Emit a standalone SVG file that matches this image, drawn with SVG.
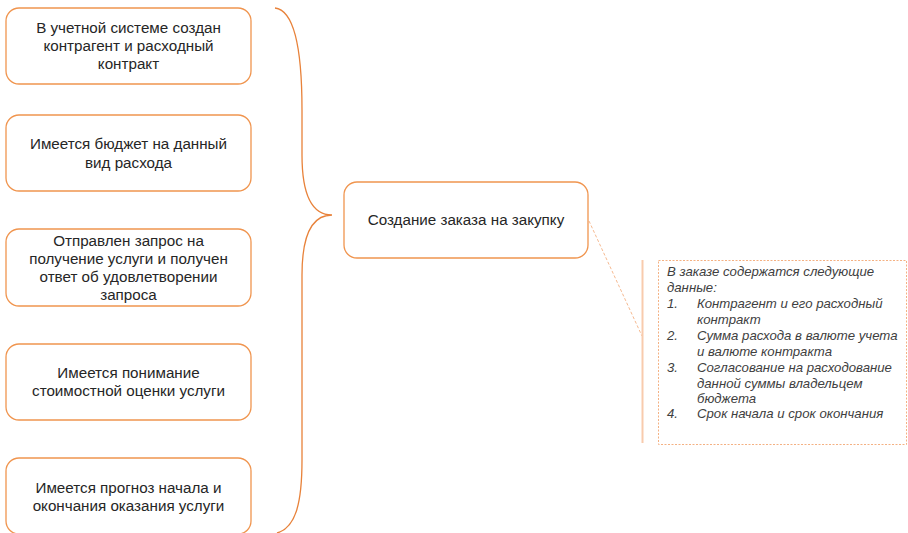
<svg xmlns="http://www.w3.org/2000/svg" width="908" height="533" viewBox="0 0 908 533">
<style>
.box{fill:#fff;stroke:#F0954F;stroke-width:1.3}
.t{font-family:"Liberation Sans",Arial,sans-serif;font-size:15.2px;fill:#262626;text-anchor:middle}
.n{font-family:"Liberation Sans",Arial,sans-serif;font-size:13.2px;font-style:italic;fill:#404040}
</style>
<rect width="908" height="533" fill="#fff"/>
<g id="connectors">
<path d="M275,8 C292,10 302,40 302,110 L302,155 C302,195 312,215 332,215 C312,215 302,235 302,275 L302,460 C302,505 295,528 277,533" fill="none" stroke="#E8823A" stroke-width="1.3"/>
<line x1="589" y1="221" x2="642" y2="336" stroke="#F4B183" stroke-width="0.9" stroke-dasharray="3,2"/>
<line x1="642.5" y1="260" x2="642.5" y2="443" stroke="#F8CBAD" stroke-width="2"/>
</g>
<g id="n1"><rect class="box" x="6" y="8" width="245" height="76" rx="13"/>
<text class="t" x="128.5" y="33">В учетной системе создан</text>
<text class="t" x="128.5" y="51">контрагент и расходный</text>
<text class="t" x="128.5" y="69">контракт</text></g>
<g id="n2"><rect class="box" x="6" y="115" width="245" height="76" rx="13"/>
<text class="t" x="128.5" y="149">Имеется бюджет на данный</text>
<text class="t" x="128.5" y="168">вид расхода</text></g>
<g id="n3"><rect class="box" x="6" y="229" width="245" height="77" rx="13"/>
<text class="t" x="128.5" y="246">Отправлен запрос на</text>
<text class="t" x="128.5" y="264">получение услуги и получен</text>
<text class="t" x="128.5" y="282">ответ об удовлетворении</text>
<text class="t" x="128.5" y="300">запроса</text></g>
<g id="n4"><rect class="box" x="6" y="344" width="245" height="76" rx="13"/>
<text class="t" x="128.5" y="378">Имеется понимание</text>
<text class="t" x="128.5" y="396">стоимостной оценки услуги</text></g>
<g id="n5"><rect class="box" x="6" y="458" width="245" height="76" rx="13"/>
<text class="t" x="128.5" y="493">Имеется прогноз начала и</text>
<text class="t" x="128.5" y="511">окончания оказания услуги</text></g>
<g id="center"><rect class="box" x="344" y="182" width="244" height="76" rx="13"/>
<text class="t" x="466" y="225">Создание заказа на закупку</text></g>
<g id="note">
<rect x="658.5" y="260.5" width="248" height="184" fill="none" stroke="#F4B183" stroke-width="1" stroke-dasharray="2,1.5"/>
<text class="n" x="667" y="276">В заказе содержатся следующие</text>
<text class="n" x="667" y="292">данные:</text>
<text class="n" x="667" y="308">1.</text><text class="n" x="697" y="308">Контрагент и его расходный</text>
<text class="n" x="697" y="324">контракт</text>
<text class="n" x="667" y="340">2.</text><text class="n" x="697" y="340">Сумма расхода в валюте учета</text>
<text class="n" x="697" y="356">и валюте контракта</text>
<text class="n" x="667" y="372">3.</text><text class="n" x="697" y="372">Согласование на расходование</text>
<text class="n" x="697" y="388">данной суммы владельцем</text>
<text class="n" x="697" y="403">бюджета</text>
<text class="n" x="667" y="418">4.</text><text class="n" x="697" y="418">Срок начала и срок окончания</text>
</g>
</svg>
